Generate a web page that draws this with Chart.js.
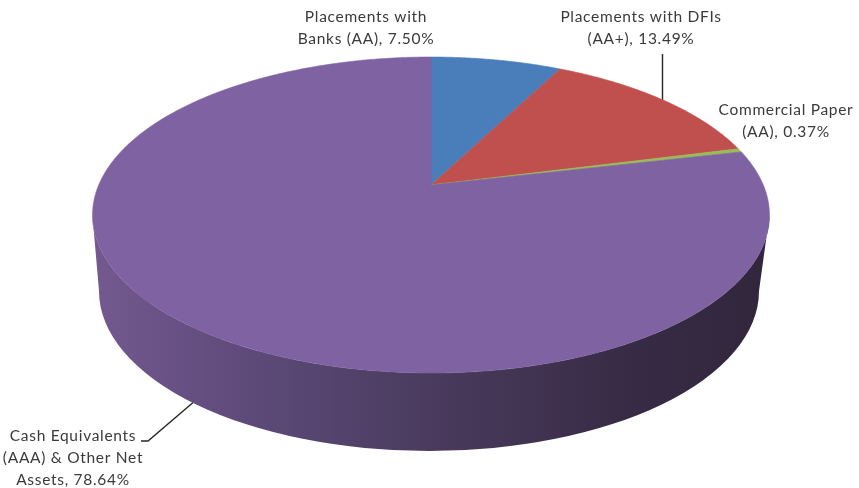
<!DOCTYPE html>
<html>
<head>
<meta charset="utf-8">
<title>Portfolio quality</title>
<script src="https://cdn.jsdelivr.net/npm/chart.js@4"></script>
<style>
  html, body { margin: 0; padding: 0; background: #fff; }
  #wrap { width: 859px; height: 488px; }
</style>
</head>
<body>
<div id="wrap"><canvas id="pie"></canvas></div>
<script>
const categories = ["Placements with Banks (AA)", "Placements with DFIs (AA+)", "Commercial Paper (AA)", "Cash Equivalents (AAA) & Other Net Assets"];
const shares = [7.50, 13.49, 0.37, 78.64];
const labelHeads = [["Placements with"], ["Placements with DFIs"], ["Commercial Paper"], ["Cash Equivalents", "(AAA) & Other Net"]];
const labelTails = ["Banks (AA)", "(AA+)", "(AA)", "Assets"];
const sliceColors = ["#4a7ebb", "#c0504d", "#9bbb59", "#7e62a1"];

// label block centres: x, y of the first line
const labelSpots = [[366, 17], [641, 17], [786, 110], [73, 436]];
const LINE_H = 21.8;

// perspective of the disc: apex on screen, radius scale, tilt
const disc = { x: 431, y: 185, kx: 332.3, ky: 152.3, tilt: 0.19 };
// rim of the lower face
const base = { x: 429, y: 291, a: 330, b: 160 };
// shading of the side wall, left to right
const wallStops = [
  [92, "#73598f"], [190, "#664f82"], [300, "#574672"], [430, "#4a3b5e"],
  [540, "#403250"], [640, "#372a44"], [769, "#32263c"]
];

function project(angle) {
  const u = Math.cos(angle), v = Math.sin(angle);
  const w = 1 / (1 - disc.tilt * v);
  return [disc.x + disc.kx * u * w, disc.y + disc.ky * v * w];
}

function drawWall(ctx) {
  // widest point of the projected rim sits slightly in front of the apex
  const a0 = Math.asin(disc.tilt);
  ctx.beginPath();
  for (let a = a0; a <= Math.PI - a0; a += 0.01) {
    const p = project(a);
    ctx.lineTo(p[0], p[1]);
  }
  ctx.lineTo(base.x - base.a, base.y);
  ctx.ellipse(base.x, base.y, base.a, base.b, 0, Math.PI, 0, true);
  ctx.closePath();

  const g = ctx.createLinearGradient(92, 0, 769, 0);
  wallStops.forEach(s => g.addColorStop((s[0] - 92) / 677, s[1]));
  ctx.fillStyle = g;
  ctx.fill();
}

function drawSlice(ctx, arc, color) {
  ctx.beginPath();
  ctx.moveTo(disc.x, disc.y);
  const n = Math.max(2, Math.ceil((arc.endAngle - arc.startAngle) / 0.005));
  for (let i = 0; i <= n; i++) {
    const p = project(arc.startAngle + (arc.endAngle - arc.startAngle) * i / n);
    ctx.lineTo(p[0], p[1]);
  }
  ctx.closePath();
  ctx.fillStyle = color;
  ctx.strokeStyle = color;
  ctx.lineWidth = 0.6;
  ctx.fill();
  ctx.stroke();
}

function drawLeaders(ctx) {
  ctx.strokeStyle = "#262626";
  ctx.lineWidth = 1.4;
  ctx.beginPath();
  ctx.moveTo(662.5, 54);
  ctx.lineTo(662.5, 100);
  ctx.moveTo(141, 441);
  ctx.lineTo(148, 441);
  ctx.lineTo(196, 400);
  ctx.stroke();
}

function drawLabels(ctx) {
  ctx.font = '15.5px Lato, "Open Sans", sans-serif';
  ctx.letterSpacing = "0.7px";
  ctx.fillStyle = "#3a3a3a";
  ctx.textAlign = "center";
  ctx.textBaseline = "middle";
  shares.forEach((v, i) => {
    const lines = labelHeads[i].concat(labelTails[i] + ", " + v.toFixed(2) + "%");
    lines.forEach((t, j) => ctx.fillText(t, labelSpots[i][0], labelSpots[i][1] + j * LINE_H));
  });
}

const tiltedPie = {
  id: "tiltedPie",
  // the arcs keep their angles from the pie controller, only the painting changes
  beforeDatasetDraw(chart, args) {
    const ctx = chart.ctx;
    const arcs = chart.getDatasetMeta(args.index).data;
    ctx.save();
    drawLeaders(ctx);
    drawWall(ctx);
    arcs.forEach((arc, i) => drawSlice(ctx, arc, sliceColors[i]));
    drawLabels(ctx);
    ctx.restore();
    return false;
  }
};

new Chart(document.getElementById("pie"), {
  type: "pie",
  data: {
    labels: categories,
    datasets: [{ data: shares, backgroundColor: sliceColors, borderWidth: 0 }]
  },
  options: {
    responsive: true,
    maintainAspectRatio: false,
    animation: false,
    events: [],
    plugins: { legend: { display: false }, tooltip: { enabled: false } }
  },
  plugins: [tiltedPie]
});
</script>
</body>
</html>
